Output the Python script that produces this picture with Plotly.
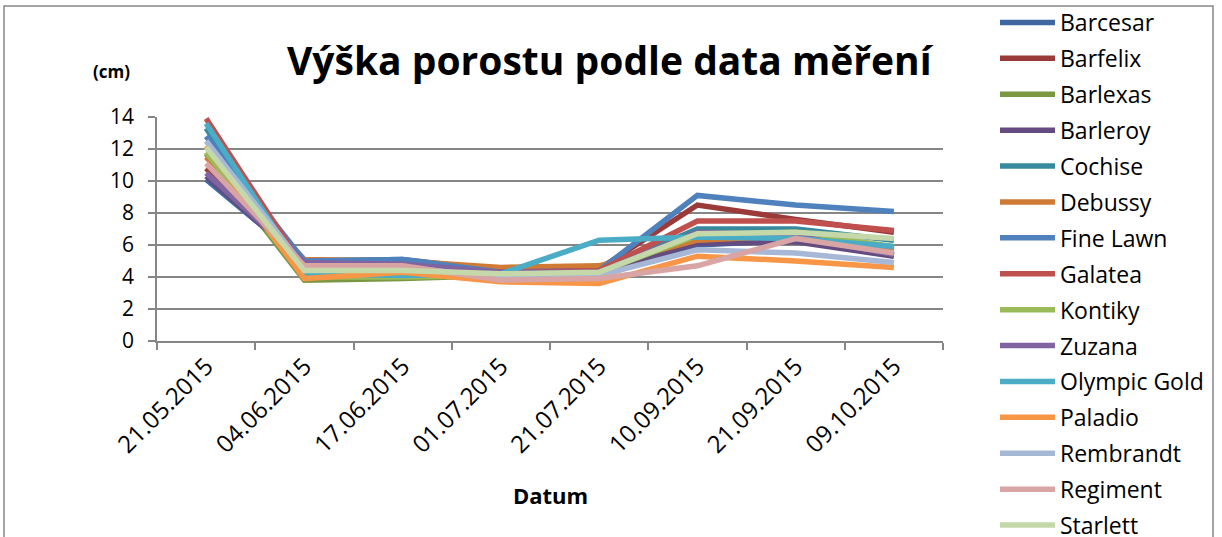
import plotly.graph_objects as go

dates = ["21.05.2015", "04.06.2015", "17.06.2015", "01.07.2015",
         "21.07.2015", "10.09.2015", "21.09.2015", "09.10.2015"]

barcesar     = [10.1, 5.0, 5.1, 4.4, 4.4, 6.0, 6.3, 5.4]
barfelix     = [10.8, 4.6, 4.6, 4.3, 4.5, 8.5, 7.6, 6.8]
barlexas     = [11.7, 3.8, 3.9, 4.1, 4.2, 6.3, 6.8, 5.8]
barleroy     = [10.3, 4.9, 4.9, 4.3, 4.3, 6.1, 6.2, 5.3]
cochise      = [13.3, 4.3, 4.3, 4.1, 4.4, 7.0, 7.0, 6.3]
debussy      = [11.5, 5.1, 5.0, 4.6, 4.7, 6.3, 6.6, 5.7]
fine_lawn    = [12.8, 5.0, 5.1, 4.3, 4.4, 9.1, 8.5, 8.1]
galatea      = [13.9, 4.5, 4.5, 4.3, 4.4, 7.5, 7.5, 6.9]
kontiky      = [11.8, 4.0, 4.0, 4.1, 4.3, 6.6, 6.8, 5.9]
zuzana       = [10.5, 4.9, 4.8, 4.3, 4.3, 6.8, 6.6, 5.4]
olympic_gold = [13.6, 4.2, 4.1, 4.2, 6.3, 6.5, 6.4, 5.9]
paladio      = [12.2, 3.9, 4.3, 3.7, 3.6, 5.3, 5.0, 4.6]
rembrandt    = [12.5, 4.6, 4.6, 4.0, 4.1, 5.7, 5.5, 4.9]
regiment     = [11.1, 4.7, 4.7, 3.8, 3.9, 4.7, 6.4, 5.5]
starlett     = [12.1, 4.4, 4.4, 4.2, 4.3, 6.7, 6.8, 6.4]

series_names = ["Barcesar", "Barfelix", "Barlexas", "Barleroy", "Cochise", "Debussy",
                "Fine Lawn", "Galatea", "Kontiky", "Zuzana", "Olympic Gold", "Paladio",
                "Rembrandt", "Regiment", "Starlett"]
series_values = [barcesar, barfelix, barlexas, barleroy, cochise, debussy,
                 fine_lawn, galatea, kontiky, zuzana, olympic_gold, paladio,
                 rembrandt, regiment, starlett]
series_colors = ["#3F68A0", "#9B3B39", "#7A9841", "#644B80", "#37899E", "#D07B35",
                 "#4F81BD", "#C0504D", "#9BBB59", "#8064A2", "#4BACC6", "#F79646",
                 "#A6B8D6", "#D8A5A4", "#C5D8A9"]

fig = go.Figure()
for name, vals, col in zip(series_names, series_values, series_colors):
    fig.add_trace(go.Scatter(x=dates, y=vals, name=name, mode="lines",
                             legendgroup=name,
                             line=dict(color=col, width=5.5)))

W, H = 1222, 537
PL, PR, PT, PB = 157, 943, 117, 341          # plot area on screen
L, T = PL, PT
R, B = W - PR, H - PB
pw, ph = PR - PL, PB - PT

def px(xs):
    return (xs - PL) / pw

def py(ys):
    return (PB - ys) / ph

font_main = "Open Sans"

fig.update_layout(
    width=W, height=H,
    margin=dict(l=L, r=R, t=T, b=B, pad=0, autoexpand=False),
    paper_bgcolor="white", plot_bgcolor="white",
    font=dict(family=font_main, color="black"),
    showlegend=True,
    legend=dict(x=px(995), xanchor="left", y=py(1), yanchor="top",
                font=dict(size=23, family=font_main, color="black"),
                itemwidth=55, tracegroupgap=3, bgcolor="rgba(0,0,0,0)",
                maxheight=700),
    xaxis=dict(type="category", range=[-0.5, 7.5], tickangle=-45,
               tickson="boundaries", ticks="outside", ticklen=7, tickcolor="#868686",
               tickwidth=1.5, showline=True, linecolor="#868686", linewidth=1.5,
               showgrid=False, tickfont=dict(size=24, family=font_main)),
    yaxis=dict(range=[0, 14], dtick=2, ticks="outside", ticklen=7, tickcolor="#868686",
               tickwidth=1.5, showline=True, linecolor="#868686", linewidth=1.5,
               showgrid=True, gridcolor="#868686", gridwidth=1.5, zeroline=False,
               ticklabelstandoff=10,
               tickfont=dict(size=21, family=font_main)),
)

fig.add_shape(type="rect", xref="paper", yref="paper",
              x0=px(4), x1=px(1213), y0=py(560), y1=py(6),
              line=dict(color="#868686", width=1.5), fillcolor="rgba(0,0,0,0)", layer="above")

fig.add_annotation(text="<b>Výška porostu podle data měření</b>", xref="paper", yref="paper",
                   x=px(610), y=py(60), showarrow=False, xanchor="center", yanchor="middle",
                   font=dict(size=39, family=font_main, color="black"))
fig.add_annotation(text="<b>(cm)</b>", xref="paper", yref="paper",
                   x=px(111), y=py(72), showarrow=False, xanchor="center", yanchor="middle",
                   font=dict(size=17, family=font_main, color="black"))
fig.add_annotation(text="<b>Datum</b>", xref="paper", yref="paper",
                   x=px(550), y=py(495), showarrow=False, xanchor="center", yanchor="middle",
                   font=dict(size=22, family=font_main, color="black"))

fig.write_html("out.html", config={"displayModeBar": False},
               post_script="document.body.style.margin='0px';")
